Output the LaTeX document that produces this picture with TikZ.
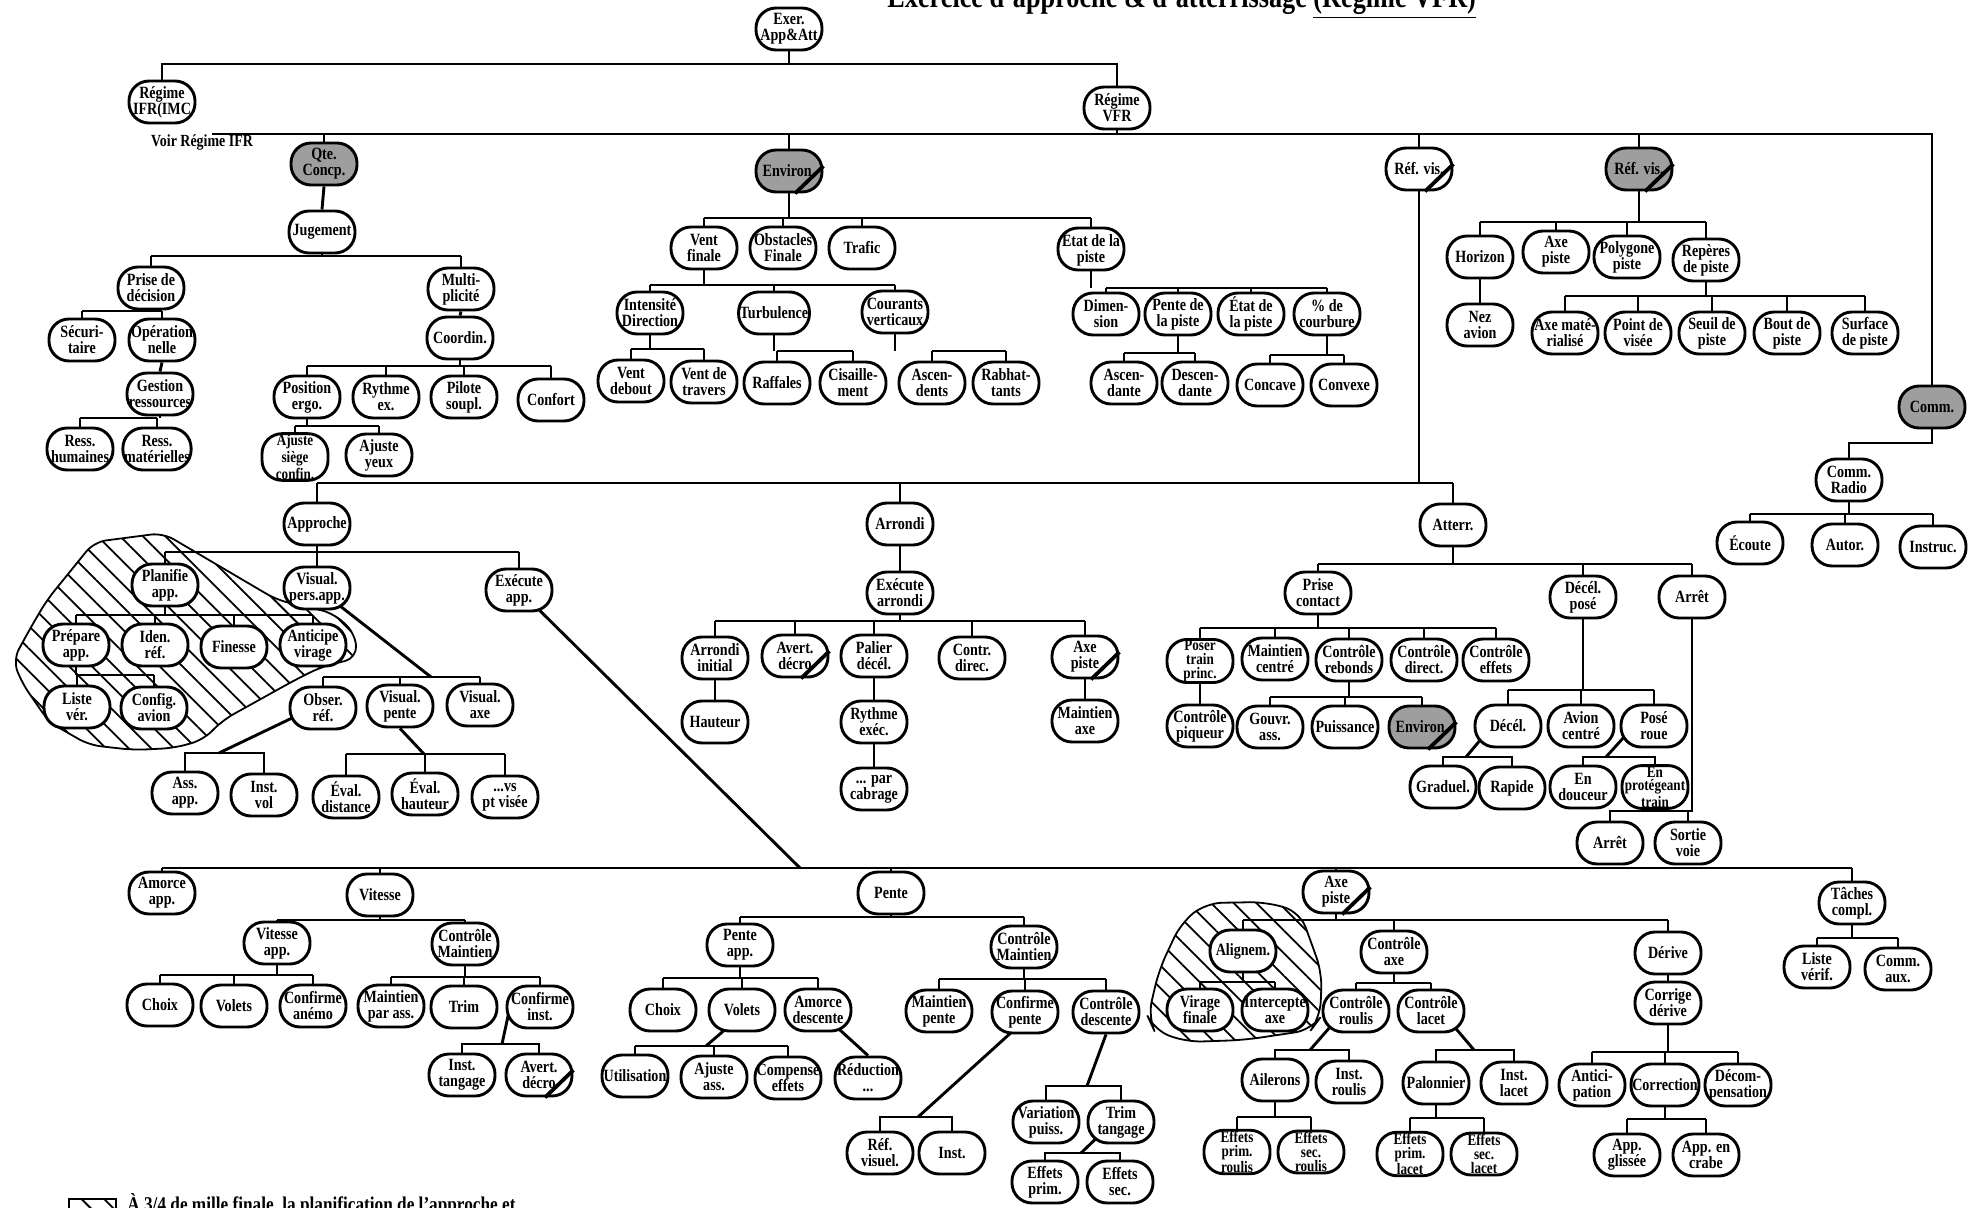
\documentclass[tikz,border=0pt]{standalone}
\usepackage{fontspec}
\setmainfont{Liberation Serif}[FakeStretch=0.82]
\usetikzlibrary{calc,backgrounds,patterns.meta}
\newcommand\nf{\fontsize{8.6}{8}\selectfont\bfseries}
\newcommand\nft{\fontsize{8}{6.8}\selectfont\bfseries}
\tikzset{
 nd/.style={draw, line width=1.45pt, fill=white, rounded corners=10pt, minimum width=33pt, minimum height=21pt, inner xsep=0.6pt, inner ysep=0.5pt, align=center, font=\nf},
 three/.style={font=\nft},
 shd/.style={fill=black!38},
 cn/.style={line width=1.45pt},
 hatch/.style={line width=0.9pt, pattern={Lines[angle=-45,distance=8pt,line width=0.9pt]}},
}
\newcommand\slashn[1]{\draw[line width=1.9pt] ($(#1.south)+(6,0)$) -- ($(#1.east)+(0,-5)$);}
\newcommand\tb[5]{%
  \draw[cn] (#1.south) -- (#1.south |- 0,#2);
  \draw[cn] (#3.north |- 0,#2) -- (#4.north |- 0,#2);
  \foreach \ch in {#5}{\draw[cn] (\ch.north) -- (\ch.north |- 0,#2);}
}
\newcommand\hb[3]{%
  \draw[cn] (#1.north) -- (#1.north |- 0,#3) -- (#2.north |- 0,#3) -- (#2.north);
}
\begin{document}
\begin{tikzpicture}[x=0.5pt,y=-0.5pt]
\useasboundingbox (0,0) rectangle (1981,1208);
% title and texts
\node[anchor=base west, inner sep=0, font=\fontsize{16}{16}\selectfont\bfseries] (title) at (887,8) {Exercice d'approche \& d'atterrissage \underline{(Régime VFR)}};
\node[inner sep=0, font=\fontsize{8.5}{8}\selectfont\bfseries] (voir) at (202,142) {Voir Régime IFR};
\node[anchor=base west, inner sep=0, font=\fontsize{10.5}{10.5}\selectfont\bfseries] (leg) at (127,1211) {À 3/4 de mille finale, la planification de l'approche et};
% top level
\node[nd] (exer) at (789,29) {Exer.\\App\&Att};
\node[nd] (ifr) at (162,102) {Régime\\IFR(IMC};
\node[nd] (vfr) at (1117,108) {Régime\\VFR};
\node[nd,shd] (qte) at (324,164) {Qte.\\Concp.};
\node[nd,shd] (env) at (789,171) {Environ.};
\node[nd] (rv1) at (1419,169) {Réf. vis.};
\node[nd,shd] (rv2) at (1639,169) {Réf. vis.};
\node[nd,shd] (comm) at (1932,407) {Comm.};
% Qte concp subtree
\node[nd] (jug) at (322,232) {Jugement};
\node[nd] (pdd) at (151,288) {Prise de\\décision};
\node[nd] (mul) at (461,289) {Multi-\\plicité};
\node[nd] (sec) at (82,340) {Sécuri-\\taire};
\node[nd] (ope) at (162,340) {Opération\\nelle};
\node[nd] (ges) at (160,394) {Gestion\\ressources};
\node[nd] (rhu) at (80,449) {Ress.\\humaines};
\node[nd] (rma) at (157,449) {Ress.\\matérielles};
\node[nd] (coo) at (460,338) {Coordin.};
\node[nd] (pos) at (307,397) {Position\\ergo.};
\node[nd] (ryt) at (386,397) {Rythme\\ex.};
\node[nd] (pil) at (464,397) {Pilote\\soupl.};
\node[nd] (cnf) at (551,400) {Confort};
\node[nd,three] (ajs) at (295,457) {Ajuste\\siège\\confin.};
\node[nd] (ajy) at (379,455) {Ajuste\\yeux};
% Environ subtree
\node[nd] (vf) at (704,248) {Vent\\finale};
\node[nd] (obs) at (783,248) {Obstacles\\Finale};
\node[nd] (tra) at (862,248) {Trafic};
\node[nd] (etp) at (1091,249) {État de la\\piste};
\node[nd] (int) at (650,313) {Intensité\\Direction};
\node[nd] (tur) at (774,313) {Turbulence};
\node[nd] (cou) at (895,312) {Courants\\verticaux};
\node[nd] (vd) at (631,381) {Vent\\debout};
\node[nd] (vt) at (704,382) {Vent de\\travers};
\node[nd] (raf) at (777,383) {Raffales};
\node[nd] (cis) at (853,383) {Cisaille-\\ment};
\node[nd] (asc) at (932,383) {Ascen-\\dents};
\node[nd] (rab) at (1006,383) {Rabhat-\\tants};
\node[nd] (dim) at (1106,314) {Dimen-\\sion};
\node[nd] (pdp) at (1178,314) {Pente de\\la piste};
\node[nd] (edp) at (1251,314) {État de\\la piste};
\node[nd] (pdc) at (1327,314) {\% de\\courbure};
\node[nd] (ascd) at (1124,383) {Ascen-\\dante};
\node[nd] (desd) at (1195,383) {Descen-\\dante};
\node[nd] (cvc) at (1270,385) {Concave};
\node[nd] (cvx) at (1344,385) {Convexe};
% Ref vis subtree
\node[nd] (hor) at (1480,257) {Horizon};
\node[nd] (axp) at (1556,252) {Axe\\piste};
\node[nd] (pol) at (1627,257) {Polygone\\piste};
\node[nd] (rep) at (1706,260) {Repères\\de piste};
\node[nd] (nez) at (1480,325) {Nez\\avion};
\node[nd] (axm) at (1565,333) {Axe maté-\\rialisé};
\node[nd] (pdv) at (1638,333) {Point de\\visée};
\node[nd] (sdp) at (1712,333) {Seuil de\\piste};
\node[nd] (bdp) at (1787,333) {Bout de\\piste};
\node[nd] (sfp) at (1865,333) {Surface\\de piste};
% Comm subtree
\node[nd] (crad) at (1849,480) {Comm.\\Radio};
\node[nd] (eco) at (1750,543) {Écoute};
\node[nd] (aut) at (1845,545) {Autor.};
\node[nd] (ins) at (1933,547) {Instruc.};
% phases
\node[nd] (app) at (317,524) {Approche};
\node[nd] (arr) at (900,524) {Arrondi};
\node[nd] (att) at (1453,525) {Atterr.};
% Approche
\node[nd] (pla) at (165,585) {Planifie\\app.};
\node[nd] (vpa) at (317,588) {Visual.\\pers.app.};
\node[nd] (exa) at (519,590) {Exécute\\app.};
\node[nd] (pre) at (76,645) {Prépare\\app.};
\node[nd] (ide) at (155,645) {Iden.\\réf.};
\node[nd] (fin) at (234,647) {Finesse};
\node[nd] (ant) at (313,645) {Anticipe\\virage};
\node[nd] (lis) at (77,707) {Liste\\vér.};
\node[nd] (cfg) at (154,708) {Config.\\avion};
\node[nd] (obr) at (323,708) {Obser.\\réf.};
\node[nd] (vpe) at (400,706) {Visual.\\pente};
\node[nd] (vax) at (480,705) {Visual.\\axe};
\node[nd] (ass) at (185,793) {Ass.\\app.};
\node[nd] (ivo) at (264,795) {Inst.\\vol};
\node[nd] (evd) at (346,797) {Éval.\\distance};
\node[nd] (evh) at (425,794) {Éval.\\hauteur};
\node[nd] (vsp) at (505,797) {...vs\\pt visée};
% Arrondi
\node[nd] (exar) at (900,593) {Exécute\\arrondi};
\node[nd] (ari) at (715,658) {Arrondi\\initial};
\node[nd] (avd) at (795,656) {Avert.\\décro};
\node[nd] (pal) at (874,656) {Palier\\décél.};
\node[nd] (ctd) at (972,658) {Contr.\\direc.};
\node[nd] (axa) at (1085,657) {Axe\\piste};
\node[nd] (hau) at (715,722) {Hauteur};
\node[nd] (rye) at (874,722) {Rythme\\exéc.};
\node[nd] (pca) at (874,789) {... par\\cabrage};
\node[nd] (mai) at (1085,721) {Maintien\\axe};
% Atterr
\node[nd] (pco) at (1318,593) {Prise\\contact};
\node[nd] (dpo) at (1583,597) {Décél.\\posé};
\node[nd] (are) at (1692,597) {Arrêt};
\node[nd,three] (ptp) at (1200,661) {Poser\\train\\princ.};
\node[nd] (mce) at (1275,659) {Maintien\\centré};
\node[nd] (crb) at (1349,660) {Contrôle\\rebonds};
\node[nd] (cdi) at (1424,660) {Contrôle\\direct.};
\node[nd] (cef) at (1496,660) {Contrôle\\effets};
\node[nd] (cpq) at (1200,726) {Contrôle\\piqueur};
\node[nd] (gas) at (1270,727) {Gouvr.\\ass.};
\node[nd] (pui) at (1345,727) {Puissance};
\node[nd,shd] (env2) at (1422,727) {Environ.};
\node[nd] (dec) at (1508,726) {Décél.};
\node[nd] (avc) at (1581,726) {Avion\\centré};
\node[nd] (pro) at (1654,726) {Posé\\roue};
\node[nd] (gra) at (1443,787) {Graduel.};
\node[nd] (rap) at (1512,788) {Rapide};
\node[nd] (edo) at (1583,787) {En\\douceur};
\node[nd,three] (ept) at (1655,787) {En\\protégeant\\train};
\node[nd] (are2) at (1610,843) {Arrêt};
\node[nd] (sov) at (1688,843) {Sortie\\voie};
% lower tree
\node[nd] (amo) at (162,893) {Amorce\\app.};
\node[nd] (vit) at (380,895) {Vitesse};
\node[nd] (pen) at (891,893) {Pente};
\node[nd] (axb) at (1336,892) {Axe\\piste};
\node[nd] (tac) at (1852,903) {Tâches\\compl.};
\node[nd] (via) at (277,943) {Vitesse\\app.};
\node[nd] (cm1) at (465,944) {Contrôle\\Maintien};
\node[nd] (ch1) at (160,1005) {Choix};
\node[nd] (vo1) at (234,1006) {Volets};
\node[nd] (can) at (313,1006) {Confirme\\anémo};
\node[nd] (mpa) at (391,1006) {Maintien\\par ass.};
\node[nd] (trim) at (464,1007) {Trim};
\node[nd] (cin) at (540,1007) {Confirme\\inst.};
\node[nd] (ita) at (462,1075) {Inst.\\tangage};
\node[nd] (avd2) at (539,1075) {Avert.\\décro};
\node[nd] (pap) at (740,945) {Pente\\app.};
\node[nd] (cm2) at (1024,947) {Contrôle\\Maintien};
\node[nd] (ch2) at (663,1010) {Choix};
\node[nd] (vo2) at (742,1010) {Volets};
\node[nd] (ade) at (818,1010) {Amorce\\descente};
\node[nd] (uti) at (635,1076) {Utilisation};
\node[nd] (aja) at (714,1077) {Ajuste\\ass.};
\node[nd] (cpf) at (788,1078) {Compense\\effets};
\node[nd] (red) at (868,1078) {Réduction\\...};
\node[nd] (mpe) at (939,1011) {Maintien\\pente};
\node[nd] (cpe) at (1025,1012) {Confirme\\pente};
\node[nd] (cde) at (1106,1012) {Contrôle\\descente};
\node[nd] (rvi) at (880,1153) {Réf.\\visuel.};
\node[nd] (ins2) at (952,1153) {Inst.};
\node[nd] (vpu) at (1046,1122) {Variation\\puiss.};
\node[nd] (ttg) at (1121,1122) {Trim\\tangage};
\node[nd] (epr) at (1045,1182) {Effets\\prim.};
\node[nd] (esc) at (1120,1182) {Effets\\sec.};
\node[nd] (ali) at (1243,951) {Alignem.};
\node[nd] (cax) at (1394,952) {Contrôle\\axe};
\node[nd] (der) at (1668,953) {Dérive};
\node[nd] (vfi) at (1200,1010) {Virage\\finale};
\node[nd] (iax) at (1275,1010) {Intercepte\\axe};
\node[nd] (cro) at (1356,1011) {Contrôle\\roulis};
\node[nd] (cla) at (1431,1011) {Contrôle\\lacet};
\node[nd] (ail) at (1275,1080) {Ailerons};
\node[nd] (iro) at (1349,1082) {Inst.\\roulis};
\node[nd,three] (epro) at (1237,1152) {Effets\\prim.\\roulis};
\node[nd,three] (esro) at (1311,1152) {Effets\\sec.\\roulis};
\node[nd] (pal2) at (1436,1083) {Palonnier};
\node[nd] (ila) at (1514,1083) {Inst.\\lacet};
\node[nd,three] (eprl) at (1410,1154) {Effets\\prim.\\lacet};
\node[nd,three] (esl) at (1484,1154) {Effets\\sec.\\lacet};
\node[nd] (cod) at (1668,1003) {Corrige\\dérive};
\node[nd] (ant2) at (1592,1085) {Antici-\\pation};
\node[nd] (corr) at (1665,1085) {Correction};
\node[nd] (dco) at (1738,1085) {Décom-\\pensation};
\node[nd] (apg) at (1627,1155) {App.\\glissée};
\node[nd] (apc) at (1706,1155) {App. en\\crabe};
\node[nd] (lvf) at (1817,967) {Liste\\vérif.};
\node[nd] (cmx) at (1898,969) {Comm.\\aux.};
% slashes
\slashn{env}\slashn{rv1}\slashn{rv2}\slashn{avd}\slashn{axa}\slashn{avd2}\slashn{axb}\slashn{env2}
% kink coordinates
\coordinate (vb0) at (212,134);
\coordinate (k1) at (431,677);
\coordinate (k2) at (219,753);
\coordinate (k3) at (424,754);
\coordinate (k4) at (800,868);
\coordinate (k5) at (1466,757);
\coordinate (k6) at (1606,757);
\coordinate (k7) at (502,1044);
\coordinate (k8) at (706,1046);
\coordinate (k9) at (918,1117);
\coordinate (k10) at (1087,1086);
\coordinate (k11) at (1081,1153);
\coordinate (k12) at (1310,1050);
\coordinate (k13) at (1474,1050);
\begin{pgfonlayer}{background}
\fill[white] (0,0) rectangle (1981,1208);
% hatched zones
\draw[hatch, rounded corners=6pt] (94,542) -- (163,533) -- (277,600) -- (333,613) -- (355,633) -- (357,658) -- (321,667) -- (295,680) -- (223,720) -- (203,740) -- (174,748) -- (134,750) -- (89,745) -- (49,722) -- (22,683) -- (13,660) -- (31,627) -- (47,600) -- cycle;
\draw[hatch, rounded corners=8pt] (1206,903) -- (1266,902) -- (1300,912) -- (1311,942) -- (1322,973) -- (1320,1018) -- (1311,1030) -- (1244,1040) -- (1186,1042) -- (1154,1030) -- (1148,1017) -- (1159,970) -- (1181,923) -- cycle;
\draw[hatch] (69,1199) rectangle (116,1222);
% top
\draw[cn] (exer.south) -- (exer.south |- 0,64);
\draw[cn] (ifr.north) -- (ifr.north |- 0,64) -- (vfr.north |- 0,64) -- (vfr.north);
\draw[cn] (vfr.south) -- (vfr.south |- 0,134);
\draw[cn] (vb0) -- (comm.north |- 0,134) -- (comm.north);
\foreach \ch in {qte,env,rv1,rv2}{\draw[cn] (\ch.north) -- (\ch.north |- 0,134);}
% qte
\draw[cn] (qte.south) -- (jug.north);
\tb{jug}{256}{pdd}{mul}{pdd,mul}
\tb{pdd}{311}{sec}{ope}{sec,ope}
\draw[cn] (ope.south) -- (ges.north);
\tb{ges}{418}{rhu}{rma}{rhu,rma}
\draw[cn] (mul.south) -- (coo.north);
\tb{coo}{366}{pos}{cnf}{pos,ryt,pil,cnf}
\tb{pos}{426}{ajs}{ajy}{ajs,ajy}
% environ
\tb{env}{218}{vf}{etp}{vf,obs,tra,etp}
\tb{vf}{285}{int}{cou}{int,tur,cou}
\tb{int}{349}{vd}{vt}{vd,vt}
\tb{tur}{351}{raf}{cis}{raf,cis}
\tb{cou}{351}{asc}{rab}{asc,rab}
\tb{etp}{288}{dim}{pdc}{dim,pdp,edp,pdc}
\tb{pdp}{353}{ascd}{desd}{ascd,desd}
\tb{pdc}{355}{cvc}{cvx}{cvc,cvx}
% ref vis
\tb{rv2}{222}{hor}{rep}{hor,axp,pol,rep}
\draw[cn] (hor.south) -- (nez.north);
\tb{rep}{296}{axm}{sfp}{axm,pdv,sdp,bdp,sfp}
% comm
\draw[cn] (comm.south) -- (comm.south |- 0,443) -- (crad.north |- 0,443) -- (crad.north);
\tb{crad}{514}{eco}{ins}{eco,aut,ins}
% phases
\tb{rv1}{483}{app}{att}{app,arr,att}
\tb{app}{552}{pla}{exa}{pla,vpa,exa}
\tb{pla}{615}{pre}{ant}{pre,ide,fin,ant}
\tb{pre}{675}{lis}{cfg}{lis,cfg}
\draw[cn] (vpa.center) -- (k1);
\draw[cn] (obr.north |- 0,677) -- (vax.north |- 0,677);
\foreach \ch in {obr,vpe,vax}{\draw[cn] (\ch.north) -- (\ch.north |- 0,677);}
\draw[cn] ($(obr.center)+(-10,0)$) -- (k2);
\hb{ass}{ivo}{753}
\draw[cn] (vpe.south) -- (k3);
\draw[cn] (evd.north |- 0,754) -- (vsp.north |- 0,754);
\foreach \ch in {evd,evh,vsp}{\draw[cn] (\ch.north) -- (\ch.north |- 0,754);}
\draw[cn] (exa.center) -- (k4);
% arrondi
\draw[cn] (arr.south) -- (exar.north);
\tb{exar}{621}{ari}{axa}{ari,avd,pal,ctd,axa}
\draw[cn] (ari.south) -- (hau.north);
\draw[cn] (pal.south) -- (rye.north);
\draw[cn] (rye.south) -- (pca.north);
\draw[cn] (axa.south) -- (mai.north);
% atterr
\tb{att}{564}{pco}{are}{pco,dpo,are}
\tb{pco}{628}{ptp}{cef}{ptp,mce,crb,cdi,cef}
\draw[cn] (ptp.south) -- (cpq.north);
\tb{crb}{697}{gas}{env2}{gas,pui,env2}
\tb{dpo}{690}{dec}{pro}{dec,avc,pro}
\draw[cn] ($(dec.center)+(-16,0)$) -- (k5);
\hb{gra}{rap}{757}
\draw[cn] ($(pro.center)+(-20,0)$) -- (k6);
\hb{edo}{ept}{757}
\draw[cn] (are.south) -- (are.south |- 0,811) -- (are2.north |- 0,811) -- (are2.north);
\draw[cn] (sov.north) -- (sov.north |- 0,811);
% lower main line
\draw[cn] (amo.north |- 0,868) -- (tac.north |- 0,868);
\foreach \ch in {amo,vit,pen,axb,tac}{\draw[cn] (\ch.north) -- (\ch.north |- 0,868);}
\tb{vit}{920}{via}{cm1}{via,cm1}
\tb{via}{975}{ch1}{can}{ch1,vo1,can}
\tb{cm1}{977}{mpa}{cin}{mpa,trim,cin}
\draw[cn] ($(cin.center)+(-30,0)$) -- (k7);
\hb{ita}{avd2}{1044}
\tb{pen}{917}{pap}{cm2}{pap,cm2}
\tb{pap}{978}{ch2}{ade}{ch2,vo2,ade}
\draw[cn] ($(vo2.center)+(0,5)$) -- (k8);
\draw[cn] (uti.north |- 0,1046) -- (cpf.north |- 0,1046);
\foreach \ch in {uti,aja,cpf}{\draw[cn] (\ch.north) -- (\ch.north |- 0,1046);}
\draw[cn] (ade.center) -- (red.north);
\tb{cm2}{979}{mpe}{cde}{mpe,cpe,cde}
\draw[cn] ($(cpe.center)+(0,8)$) -- (k9);
\hb{rvi}{ins2}{1117}
\draw[cn] (cde.south) -- (k10);
\hb{vpu}{ttg}{1086}
\draw[cn] ($(ttg.center)+(-14,6)$) -- (k11);
\hb{epr}{esc}{1153}
\tb{axb}{920}{ali}{der}{ali,cax,der}
\tb{ali}{982}{vfi}{iax}{vfi,iax}
\tb{cax}{983}{cro}{cla}{cro,cla}
\draw[cn] ($(cro.center)+(-12,0)$) -- (k12);
\hb{ail}{iro}{1050}
\tb{ail}{1117}{epro}{esro}{epro,esro}
\draw[cn] ($(cla.center)+(10,0)$) -- (k13);
\hb{pal2}{ila}{1050}
\tb{pal2}{1118}{eprl}{esl}{eprl,esl}
\draw[cn] (der.south) -- (cod.north);
\tb{cod}{1052}{ant2}{dco}{ant2,corr,dco}
\tb{corr}{1119}{apg}{apc}{apg,apc}
\tb{tac}{938}{lvf}{cmx}{lvf,cmx}
\end{pgfonlayer}
\end{tikzpicture}
\end{document}
